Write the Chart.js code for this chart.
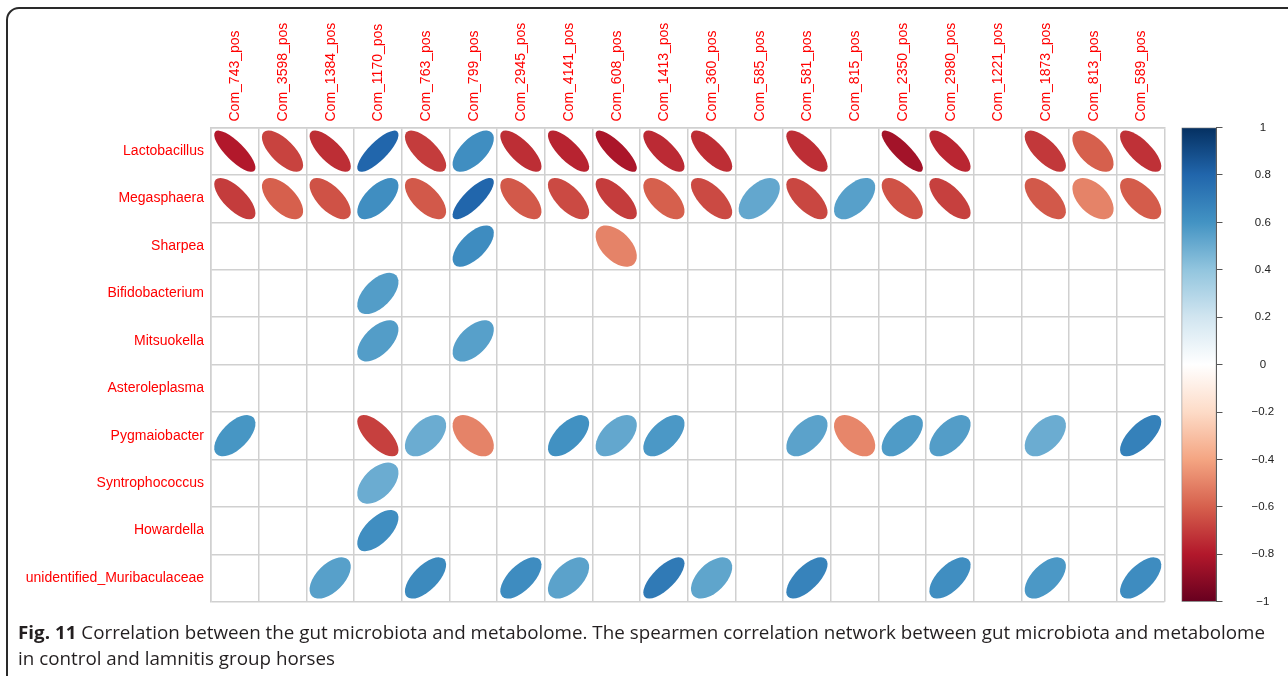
<!DOCTYPE html>
<html>
<head>
<meta charset="utf-8">
<script src="https://cdn.jsdelivr.net/npm/chart.js@4.4.1/dist/chart.umd.min.js"></script>
<style>
  html, body { margin: 0; padding: 0; background: #fff; }
  body { width: 1288px; height: 676px; position: relative; overflow: hidden; font-family: "Liberation Sans", Arial, sans-serif; }
  #frame { position: absolute; left: 6px; top: 7px; width: 1300px; height: 720px; border: 2px solid #2a2a2a; border-radius: 13px; box-sizing: border-box; }
  #main { position: absolute; left: 0; top: 0; }
  #bar { position: absolute; left: 1170px; top: 0; }
  #caption { position: absolute; left: 18px; top: 619px; font-family: "Open Sans", sans-serif; font-size: 18.5px; line-height: 26px; color: #231f20; white-space: nowrap; transform-origin: 0 0; }
  #caption b { font-weight: 700; }
</style>
</head>
<body>
<div id="frame"></div>
<canvas id="main" width="1175" height="676"></canvas>
<canvas id="bar" width="118" height="676"></canvas>
<div id="caption"><span id="cap1"><b>Fig. 11</b> Correlation between the gut microbiota and metabolome. The spearmen correlation network between gut microbiota and metabolome</span><br><span>in control and lamnitis group horses</span></div>
<script>
// Metabolites (columns) and genera (rows)
const metabolites = [
  'Com_743_pos', 'Com_3598_pos', 'Com_1384_pos', 'Com_1170_pos', 'Com_763_pos',
  'Com_799_pos', 'Com_2945_pos', 'Com_4141_pos', 'Com_608_pos', 'Com_1413_pos',
  'Com_360_pos', 'Com_585_pos', 'Com_581_pos', 'Com_815_pos', 'Com_2350_pos',
  'Com_2980_pos', 'Com_1221_pos', 'Com_1873_pos', 'Com_813_pos', 'Com_589_pos'
];
const taxa = [
  'Lactobacillus', 'Megasphaera', 'Sharpea', 'Bifidobacterium', 'Mitsuokella',
  'Asteroleplasma', 'Pygmaiobacter', 'Syntrophococcus', 'Howardella', 'unidentified_Muribaculaceae'
];

// Spearman rho per genus, one entry per metabolite (null = not significant, left blank)
const lactobacillus   = [-0.80, -0.68, -0.74, 0.80, -0.70, 0.62, -0.74, -0.77, -0.82, -0.75, -0.74, null, -0.74, null, -0.84, -0.76, null, -0.71, -0.60, -0.73];
const megasphaera     = [-0.70, -0.60, -0.64, 0.62, -0.62, 0.80, -0.62, -0.66, -0.70, -0.60, -0.66, 0.52, -0.67, 0.55, -0.64, -0.69, null, -0.62, -0.50, -0.61];
const sharpea         = [null, null, null, null, null, 0.63, null, null, -0.50, null, null, null, null, null, null, null, null, null, null, null];
const bifidobacterium = [null, null, null, 0.56, null, null, null, null, null, null, null, null, null, null, null, null, null, null, null, null];
const mitsuokella     = [null, null, null, 0.56, null, 0.55, null, null, null, null, null, null, null, null, null, null, null, null, null, null];
const asteroleplasma  = [null, null, null, null, null, null, null, null, null, null, null, null, null, null, null, null, null, null, null, null];
const pygmaiobacter   = [0.59, null, null, -0.69, 0.50, -0.50, null, 0.61, 0.52, 0.58, null, null, 0.54, -0.49, 0.57, 0.56, null, 0.50, null, 0.68];
const syntrophococcus = [null, null, null, 0.50, null, null, null, null, null, null, null, null, null, null, null, null, null, null, null, null];
const howardella      = [null, null, null, 0.62, null, null, null, null, null, null, null, null, null, null, null, null, null, null, null, null];
const muribaculaceae  = [null, null, 0.55, null, 0.64, null, 0.63, 0.54, null, 0.71, 0.53, null, 0.67, null, null, 0.62, null, 0.58, null, 0.63];

const rhoRows = [lactobacillus, megasphaera, sharpea, bifidobacterium, mitsuokella,
                 asteroleplasma, pygmaiobacter, syntrophococcus, howardella, muribaculaceae];

// Colour legend ticks
const legendTicks  = [-1, -0.8, -0.6, -0.4, -0.2, 0, 0.2, 0.4, 0.6, 0.8, 1];
const legendLabels = ['\u22121', '\u22120.8', '\u22120.6', '\u22120.4', '\u22120.2', '0', '0.2', '0.4', '0.6', '0.8', '1'];

// RdBu diverging palette, -1 .. 1 in steps of 0.2
const rdbu = ['#67001F', '#B2182B', '#D6604D', '#F4A582', '#FDDBC7', '#FFFFFF',
              '#D1E5F0', '#92C5DE', '#4393C3', '#2166AC', '#053061'];

function hexRgb(h) {
  return [parseInt(h.slice(1, 3), 16), parseInt(h.slice(3, 5), 16), parseInt(h.slice(5, 7), 16)];
}
function rhoColor(v) {
  const t = Math.max(0, Math.min(10, (v + 1) * 5));
  const i = Math.min(9, Math.floor(t));
  const f = t - i;
  const a = hexRgb(rdbu[i]), b = hexRgb(rdbu[i + 1]);
  const c = a.map((ch, k) => Math.round(ch + (b[k] - ch) * f));
  return `rgb(${c[0]},${c[1]},${c[2]})`;
}

// Scatter points on the category grid; the value drives colour and ellipse shape
const points = [];
rhoRows.forEach((row, r) => {
  row.forEach((v, c) => {
    if (v !== null) points.push({ x: metabolites[c], y: taxa[r], v: v });
  });
});

// Draws each correlation as an ellipse centred on its scatter point
const ellipsePlugin = {
  id: 'corrEllipses',
  afterDatasetsDraw(chart) {
    const { ctx, scales } = chart;
    const cw = Math.abs(scales.x.getPixelForValue(1) - scales.x.getPixelForValue(0));
    const ch = Math.abs(scales.y.getPixelForValue(1) - scales.y.getPixelForValue(0));
    const s = 0.87 * Math.min(cw, ch);
    const ds = chart.data.datasets[0];
    chart.getDatasetMeta(0).data.forEach((pt, i) => {
      const v = ds.data[i].v;
      const d = Math.acos(v);
      const a = Math.cos(d / 2) / Math.SQRT2 * s;
      const b = Math.sin(d / 2) / Math.SQRT2 * s;
      ctx.save();
      ctx.beginPath();
      ctx.ellipse(pt.x, pt.y, a, b, -Math.PI / 4, 0, 2 * Math.PI);
      ctx.fillStyle = rhoColor(v);
      ctx.fill();
      ctx.restore();
    });
  }
};

const gridStyle = { offset: true, color: '#d0d0d0', lineWidth: 1.5, drawTicks: false };
const labelFont = { family: 'Liberation Sans', size: 14 };

new Chart(document.getElementById('main'), {
  type: 'scatter',
  data: { datasets: [{ data: points, pointRadius: 0, pointHoverRadius: 0 }] },
  options: {
    responsive: false,
    animation: false,
    events: [],
    layout: { padding: { left: 0, top: 0, right: 10.5, bottom: 74.3 } },
    plugins: { legend: { display: false }, tooltip: { enabled: false } },
    scales: {
      x: {
        type: 'category', labels: metabolites, position: 'top', offset: true,
        grid: gridStyle,
        border: { display: true, color: '#d0d0d0', width: 1.5 },
        ticks: { autoSkip: false, minRotation: 90, maxRotation: 90, padding: 6, labelOffset: 17.5, color: '#ff0000', font: labelFont },
        afterFit(scale) { scale.height = 127.5; }
      },
      y: {
        type: 'category', labels: taxa, position: 'left', offset: true,
        grid: gridStyle,
        border: { display: true, color: '#d0d0d0', width: 1.5 },
        ticks: { autoSkip: false, padding: 7, color: '#ff0000', font: labelFont },
        afterFit(scale) { scale.width = 211; }
      }
    }
  },
  plugins: [ellipsePlugin]
});

// Colour legend: a single floating bar spanning -1..1 filled with the palette
new Chart(document.getElementById('bar'), {
  type: 'bar',
  data: {
    labels: [''],
    datasets: [{
      data: [[-1, 1]],
      backgroundColor(c) {
        const area = c.chart.chartArea;
        if (!area) return '#ffffff';
        const g = c.chart.ctx.createLinearGradient(0, area.bottom, 0, area.top);
        rdbu.forEach((col, i) => g.addColorStop(i / 10, col));
        return g;
      },
      borderColor: '#6b6b6b',
      borderWidth: 1,
      borderSkipped: false,
      barPercentage: 1,
      categoryPercentage: 1
    }]
  },
  options: {
    responsive: false,
    animation: false,
    events: [],
    layout: { padding: { left: 11.5, top: 127.5, right: 0, bottom: 74.3 } },
    plugins: { legend: { display: false }, tooltip: { enabled: false } },
    scales: {
      x: { display: false },
      y: {
        position: 'right', min: -1, max: 1,
        afterBuildTicks(scale) { scale.ticks = legendTicks.map(v => ({ value: v })); },
        ticks: {
          callback: (v, i) => legendLabels[i],
          crossAlign: 'center', padding: 29, color: '#222', autoSkip: false,
          font: { family: 'Liberation Sans', size: 11.5 }
        },
        grid: { drawOnChartArea: false, tickLength: 6, color: '#555' },
        border: { display: true, color: '#555' },
        afterFit(scale) { scale.width = 118 - 46.5; }
      }
    }
  }
});

// Fit the first caption line to the figure width
const cap1 = document.getElementById('cap1');
const w = cap1.getBoundingClientRect().width;
document.getElementById('caption').style.transform = `scaleX(${1247 / w})`;
</script>
</body>
</html>
